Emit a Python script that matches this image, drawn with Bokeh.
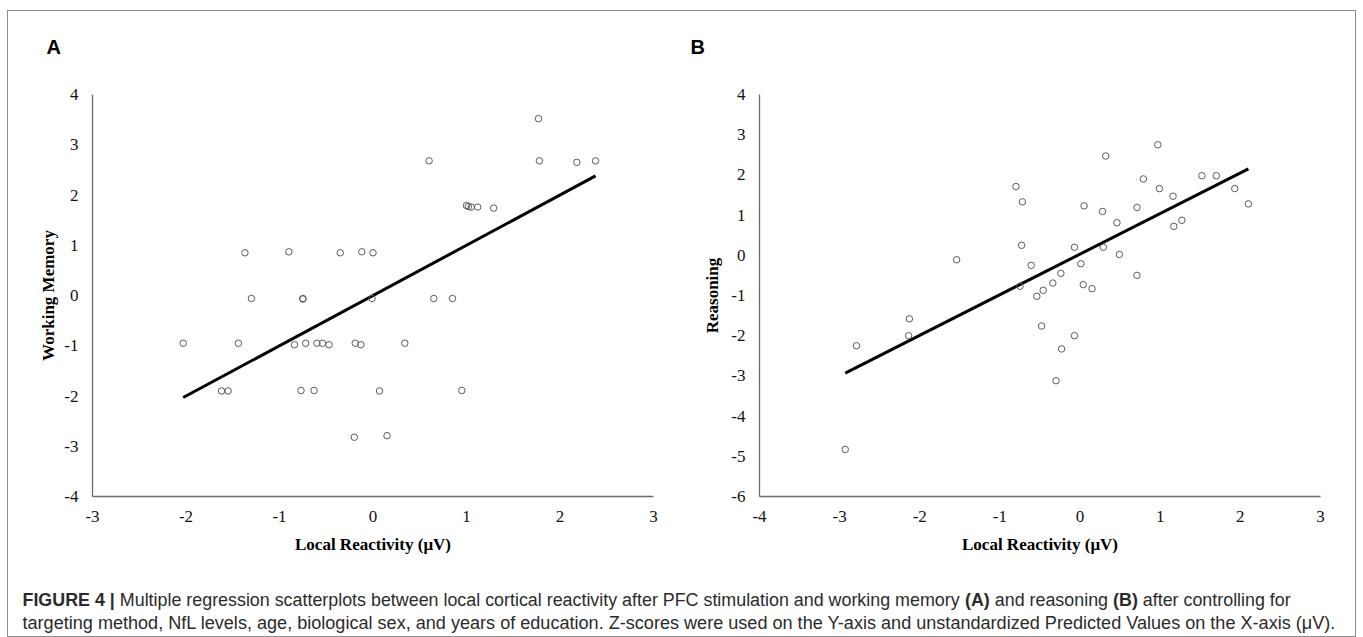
import subprocess, struct
from bokeh.plotting import figure
from bokeh.models import FixedTicker, Range1d
from bokeh.layouts import column, row
from bokeh.embed import file_html
from bokeh.resources import INLINE
from bokeh.core.properties import value

# ---------------- data: panel A (working memory) ----------------
wm_x = [-2.03, -1.62, -1.55, -1.44, -1.37, -1.30, -0.90, -0.84, -0.75, -0.75,
        -0.77, -0.72, -0.63, -0.60, -0.54, -0.47, -0.35, -0.19, -0.13, -0.12,
        -0.20, 0.00, -0.01, 0.07, 0.15, 0.34, 0.60, 0.65, 0.85, 0.95,
        1.00, 1.02, 1.05, 1.12, 1.29, 1.77, 1.78, 2.18, 2.38]
wm_y = [-0.95, -1.90, -1.90, -0.95, 0.85, -0.06, 0.87, -0.98, -0.06, -0.07,
        -1.89, -0.95, -1.89, -0.95, -0.95, -0.98, 0.85, -0.95, -0.98, 0.87,
        -2.82, 0.85, -0.06, -1.90, -2.79, -0.95, 2.68, -0.06, -0.06, -1.89,
        1.79, 1.77, 1.76, 1.76, 1.74, 3.52, 2.68, 2.65, 2.68]
wm_slope = 1.00
wm_intercept = 0.00
wm_xticks = [-3, -2, -1, 0, 1, 2, 3]
wm_yticks = [-4, -3, -2, -1, 0, 1, 2, 3, 4]

# ---------------- data: panel B (reasoning) ----------------
rs_x = [-2.93, -2.79, -2.13, -2.14, -1.54, -0.80, -0.72, -0.73, -0.75, -0.61,
        -0.54, -0.46, -0.48, -0.34, -0.24, -0.23, -0.30, -0.07, -0.07, 0.01,
        0.04, 0.05, 0.15, 0.28, 0.29, 0.32, 0.46, 0.49, 0.71, 0.71,
        0.79, 0.97, 0.99, 1.17, 1.16, 1.27, 1.52, 1.70, 1.93, 2.10]
rs_y = [-4.83, -2.25, -1.58, -2.00, -0.11, 1.71, 1.33, 0.25, -0.77, -0.25,
        -1.02, -0.87, -1.76, -0.69, -0.45, -2.33, -3.12, 0.20, -2.00, -0.21,
        -0.73, 1.23, -0.83, 1.09, 0.20, 2.47, 0.81, 0.02, -0.50, 1.19,
        1.90, 2.75, 1.66, 0.72, 1.47, 0.87, 1.98, 1.98, 1.66, 1.28]
rs_slope = 1.01
rs_intercept = 0.03
rs_xticks = [-4, -3, -2, -1, 0, 1, 2, 3]
rs_yticks = [-6, -5, -4, -3, -2, -1, 0, 1, 2, 3, 4]

x_label = "Local Reactivity (\u03bcV)"
panel_letters = ["A", "B"]

SERIF = "Liberation Serif"
SANS = "Liberation Sans"


def panel(xs, ys, slope, intercept, xticks, yticks, ylabel,
          width, height, mb_left, mb_right, mb_top, mb_bottom, ylab_standoff):
    p = figure(width=width, height=height,
               x_range=Range1d(min(xticks), max(xticks)),
               y_range=Range1d(min(yticks), max(yticks)),
               output_backend="svg", toolbar_location=None,
               min_border_left=mb_left, min_border_right=mb_right,
               min_border_top=mb_top, min_border_bottom=mb_bottom)
    p.grid.visible = False
    p.outline_line_color = None
    p.xaxis.ticker = FixedTicker(ticks=xticks)
    p.yaxis.ticker = FixedTicker(ticks=yticks)
    p.xaxis.major_label_overrides = {t: str(t) for t in xticks}
    p.yaxis.major_label_overrides = {t: str(t) for t in yticks}
    for ax in (p.xaxis[0], p.yaxis[0]):
        ax.major_tick_line_color = None
        ax.minor_tick_line_color = None
        ax.major_tick_out = 0
        ax.major_tick_in = 0
        ax.axis_line_color = "#6b6b6b"
        ax.axis_line_width = 1.3
        ax.major_label_text_font = SERIF
        ax.major_label_text_font_size = "17px"
        ax.major_label_text_color = "#111111"
        ax.axis_label_text_font = SERIF
        ax.axis_label_text_font_style = "bold"
        ax.axis_label_text_font_size = "17px"
        ax.axis_label_text_color = "#000000"
    p.xaxis.axis_label = x_label
    p.yaxis.axis_label = ylabel
    p.xaxis.major_label_standoff = 14
    p.yaxis.major_label_standoff = 14
    p.xaxis.axis_label_standoff = 10
    p.yaxis.axis_label_standoff = ylab_standoff

    x0, x1 = min(xs), max(xs)
    p.line([x0, x1], [intercept + slope * x0, intercept + slope * x1],
           line_color="black", line_width=3)
    p.scatter(xs, ys, marker="circle", size=6.5, fill_color=None,
              line_color="#5a5a5a", line_width=1)
    return p


pA = panel(wm_x, wm_y, wm_slope, wm_intercept, wm_xticks, wm_yticks,
           "Working Memory", 670, 505, 84, 25, 35, 67, 3)
pB = panel(rs_x, rs_y, rs_slope, rs_intercept, rs_xticks, rs_yticks,
           "Reasoning", 677, 505, 81, 35, 32, 68, 6)


def text_strip(width, height):
    f = figure(width=width, height=height, x_range=Range1d(0, width),
               y_range=Range1d(height, 0), output_backend="svg",
               toolbar_location=None, min_border=0, min_border_left=0,
               min_border_right=0, min_border_top=0, min_border_bottom=0)
    f.axis.visible = False
    f.grid.visible = False
    f.outline_line_color = None
    return f


# panel letters strip
letters = text_strip(1347, 48)
letters.text([38, 682], [35, 35], text=panel_letters, text_font=value(SANS),
             text_font_size=value("20px"), text_font_style="bold",
             text_color="black", text_baseline="alphabetic", text_align="left")

# ---------------- caption text measuring ----------------
W_REG = {' ': 278, '(': 333, ')': 333, ',': 278, '-': 333, '.': 278, '|': 260,
         'A': 667, 'B': 667, 'C': 722, 'D': 722, 'E': 667, 'F': 611, 'G': 778,
         'H': 722, 'I': 278, 'J': 500, 'K': 667, 'L': 556, 'M': 833, 'N': 722,
         'O': 778, 'P': 667, 'Q': 778, 'R': 722, 'S': 667, 'T': 611, 'U': 722,
         'V': 667, 'W': 944, 'X': 667, 'Y': 667, 'Z': 611,
         'a': 556, 'b': 556, 'c': 500, 'd': 556, 'e': 556, 'f': 278, 'g': 556,
         'h': 556, 'i': 222, 'j': 222, 'k': 500, 'l': 222, 'm': 833, 'n': 556,
         'o': 556, 'p': 556, 'q': 556, 'r': 333, 's': 500, 't': 278, 'u': 556,
         'v': 500, 'w': 722, 'x': 500, 'y': 500, 'z': 500, '\u03bc': 576}
W_BOLD = {' ': 278, '(': 333, ')': 333, '|': 280, 'A': 722, 'B': 722, 'E': 667,
          'F': 611, 'G': 778, 'I': 278, 'R': 722, 'U': 722}


def table_width(bold_tab):
    def w(s):
        return sum(bold_tab.get(c, W_REG.get(c, 556)) for c in s) / 1000.0
    return w


def ttf_width_func(path):
    data = open(path, "rb").read()
    base = 0
    if data[:4] == b"ttcf":
        base = struct.unpack(">I", data[12:16])[0]
    ntab = struct.unpack(">H", data[base + 4:base + 6])[0]
    tabs = {}
    for i in range(ntab):
        rec = data[base + 12 + 16 * i: base + 28 + 16 * i]
        tabs[rec[:4].decode("latin1")] = struct.unpack(">III", rec[4:16])[1]
    upem = struct.unpack(">H", data[tabs["head"] + 18: tabs["head"] + 20])[0]
    nhm = struct.unpack(">H", data[tabs["hhea"] + 34: tabs["hhea"] + 36])[0]
    ho = tabs["hmtx"]
    adv = [struct.unpack(">H", data[ho + 4 * i: ho + 4 * i + 2])[0] for i in range(nhm)]
    co = tabs["cmap"]
    n = struct.unpack(">H", data[co + 2:co + 4])[0]
    sub = None
    for i in range(n):
        pid, eid, so = struct.unpack(">HHI", data[co + 4 + 8 * i: co + 12 + 8 * i])
        if struct.unpack(">H", data[co + so: co + so + 2])[0] == 4 and pid in (0, 3):
            sub = co + so
            break
    segx2 = struct.unpack(">H", data[sub + 6:sub + 8])[0]
    sc = segx2 // 2
    ends = struct.unpack(">%dH" % sc, data[sub + 14: sub + 14 + segx2])
    starts = struct.unpack(">%dH" % sc, data[sub + 16 + segx2: sub + 16 + 2 * segx2])
    deltas = struct.unpack(">%dh" % sc, data[sub + 16 + 2 * segx2: sub + 16 + 3 * segx2])
    rpos = sub + 16 + 3 * segx2
    roffs = struct.unpack(">%dH" % sc, data[rpos: rpos + segx2])

    def gid(ch):
        c = ord(ch)
        for i in range(sc):
            if ends[i] >= c:
                if starts[i] > c:
                    return 0
                if roffs[i] == 0:
                    return (c + deltas[i]) & 0xFFFF
                a = rpos + 2 * i + roffs[i] + 2 * (c - starts[i])
                g = struct.unpack(">H", data[a:a + 2])[0]
                return (g + deltas[i]) & 0xFFFF if g else 0
        return 0

    def w(s):
        return sum(adv[min(gid(ch), nhm - 1)] for ch in s) / upem
    return w


def find_font(family, style):
    try:
        out = subprocess.run(["fc-match", "-f", "%{file}|%{family}", f"{family}:style={style}"],
                             capture_output=True, text=True, timeout=10).stdout
        path, fam = out.split("|", 1)
        if family.lower() in fam.lower():
            return path
    except Exception:
        pass
    return None


CAP_FONT = SANS
w_reg, w_bold = table_width({}), table_width(W_BOLD)
try:
    pr, pb = find_font(CAP_FONT, "Regular"), find_font(CAP_FONT, "Bold")
    if pr and pb:
        w_reg, w_bold = ttf_width_func(pr), ttf_width_func(pb)
except Exception:
    w_reg, w_bold = table_width({}), table_width(W_BOLD)


def tw(s, bold):
    return (w_bold if bold else w_reg)(s)


cap_line1 = [("FIGURE 4 | ", True),
             ("Multiple regression scatterplots between local cortical reactivity after PFC "
              "stimulation and working memory ", False),
             ("(A)", True), (" and reasoning ", False), ("(B)", True),
             (" after controlling for", False)]
cap_line2 = [("targeting method, NfL levels, age, biological sex, and years of education. "
              "Z-scores were used on the Y-axis and unstandardized Predicted Values on the "
              "X-axis (\u03bcV).", False)]

cap = text_strip(1347, 72)
for line, base, target in ((cap_line1, 35, 1268.0), (cap_line2, 58, 1318.0)):
    units = sum(tw(s, b) for s, b in line)
    fs = round(target / units, 2)
    xpos = 14.0
    for seg, bold in line:
        lead = seg[:len(seg) - len(seg.lstrip(" "))]
        cap.text([xpos + tw(lead, bold) * fs], [base], text=[seg.strip(" ")],
                 text_font=value(CAP_FONT), text_font_size=value(f"{fs}px"),
                 text_font_style="bold" if bold else "normal",
                 text_color="#2b2b2b", text_baseline="alphabetic", text_align="left")
        xpos += tw(seg, bold) * fs

root = column(letters, row(pA, pB), cap, margin=(10, 0, 0, 7),
              styles={"border": "1px solid #8c8c8c"})

open("out.html", "w").write(file_html(root, INLINE))
